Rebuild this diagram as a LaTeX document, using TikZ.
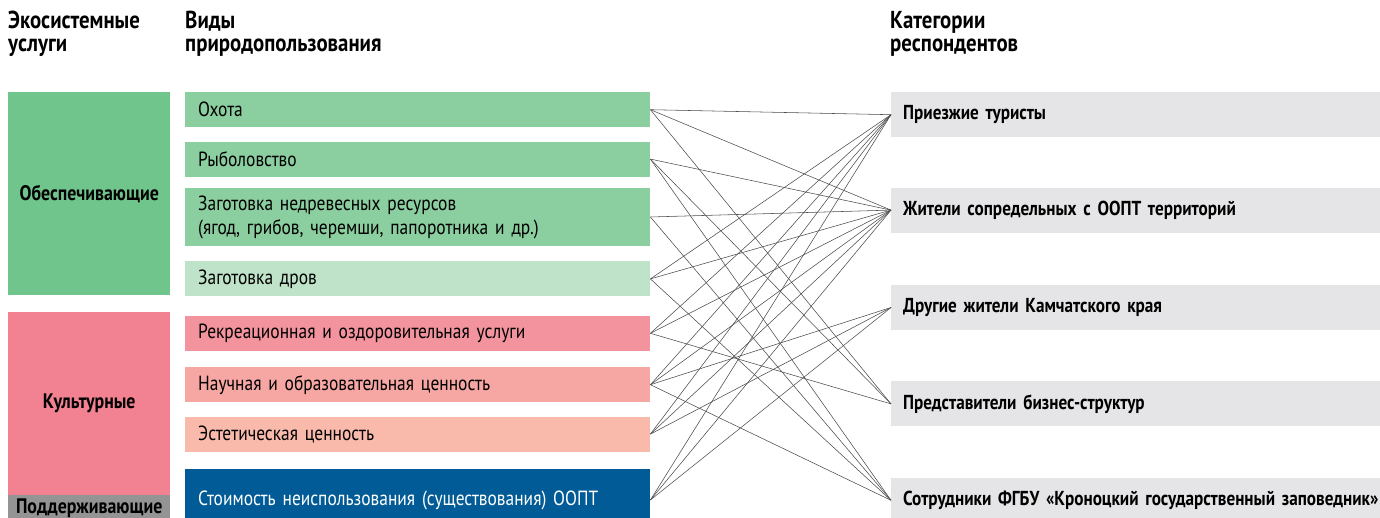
\documentclass[tikz,border=0pt]{standalone}
\usepackage{fontspec}
\setmainfont{PT Sans}[FakeStretch=0.85]
\usetikzlibrary{positioning}
\definecolor{provgreen}{RGB}{112, 197, 141}
\definecolor{culturepink}{RGB}{242, 130, 145}
\definecolor{supportgray}{RGB}{148, 148, 148}
\definecolor{usegreen}{RGB}{139, 206, 159}
\definecolor{lightgreen}{RGB}{191, 227, 200}
\definecolor{recpink}{RGB}{243, 147, 158}
\definecolor{sciencepink}{RGB}{246, 167, 163}
\definecolor{aestheticpink}{RGB}{249, 186, 172}
\definecolor{nonuseblue}{RGB}{0, 91, 150}
\definecolor{respgray}{RGB}{229, 229, 231}

\begin{document}
\begin{tikzpicture}[x=1pt, y=-1pt,
    header/.style={anchor=north west, align=left, inner sep=0pt, font=\bfseries\fontsize{24.5}{23}\selectfont},
    service/.style={anchor=north west, minimum width=162pt, text width=150pt, align=center, inner sep=0pt, font=\bfseries\fontsize{21}{24}\selectfont},
    usage/.style={anchor=north west, minimum width=465pt, minimum height=35pt, text width=439pt, align=left, inner xsep=13pt, inner ysep=0pt, font=\fontsize{20.5}{24}\selectfont},
    group/.style={anchor=north west, fill=respgray, minimum width=489pt, minimum height=45pt, text width=480pt, align=left, inner xsep=12pt, inner ysep=0pt, font=\bfseries\fontsize{20.2}{24}\selectfont},
    link/.style={black!70, line width=0.55pt}
]
    \useasboundingbox (0,0) rectangle (1380,518);

    % Headers
    \node[header] (hservices) at (8,11) {Экосистемные\\услуги};
    \node[header] (husage) at (185,11) {Виды\\природопользования};
    \node[header] (hresp) at (890,11) {Категории\\респондентов};

    % Ecosystem services
    \node[service, fill=provgreen, minimum height=203pt] (obesp) at (8,92) {Обеспечивающие};
    \node[service, fill=culturepink, minimum height=183pt] (kult) at (8,312) {Культурные};
    \node[service, fill=supportgray, minimum height=27pt] (podd) at (8,495) {Поддерживающие};

    % Kinds of use
    \node[usage, fill=usegreen] (okhota) at (185,92) {Охота};
    \node[usage, fill=usegreen, below=14pt of okhota] (ryba) {Рыболовство};
    \node[usage, fill=usegreen, minimum height=58pt, below=11pt of ryba] (nedrev) {Заготовка недревесных ресурсов\\(ягод, грибов, черемши, папоротника и др.)};
    \node[usage, fill=lightgreen, below=15pt of nedrev] (drova) {Заготовка дров};
    \node[usage, fill=recpink, below=19pt of drova] (recreation) {Рекреационная и оздоровительная услуги};
    \node[usage, fill=sciencepink, below=16pt of recreation] (nauka) {Научная и образовательная ценность};
    \node[usage, fill=aestheticpink, below=14pt of nauka] (estetika) {Эстетическая ценность};
    \node[usage, fill=nonuseblue, text=white, minimum height=62pt, below=17pt of estetika] (stoimost) {Стоимость неиспользования (существования) ООПТ};

    % Respondent groups
    \node[group] (tourists) at (891,92) {Приезжие туристы};
    \node[group, below=50pt of tourists] (sosedi) {Жители сопредельных с ООПТ территорий};
    \node[group, below=52pt of sosedi] (kamchatka) {Другие жители Камчатского края};
    \node[group, below=51pt of kamchatka] (business) {Представители бизнес-структур};
    \node[group, below=51pt of business] (staff) {Сотрудники ФГБУ «Кроноцкий государственный заповедник»};

    % Links
    \foreach \a/\b in {okhota/tourists, okhota/sosedi, okhota/business,
                       ryba/sosedi, ryba/business, ryba/staff,
                       nedrev/sosedi, nedrev/staff,
                       drova/tourists, drova/sosedi, drova/staff,
                       recreation/tourists, recreation/sosedi, recreation/business,
                       nauka/tourists, nauka/sosedi, nauka/kamchatka, nauka/staff,
                       estetika/tourists, estetika/sosedi, estetika/kamchatka,
                       stoimost/tourists, stoimost/sosedi, stoimost/kamchatka}
        \draw[link] (\a.east) -- (\b.west);
\end{tikzpicture}
\end{document}
